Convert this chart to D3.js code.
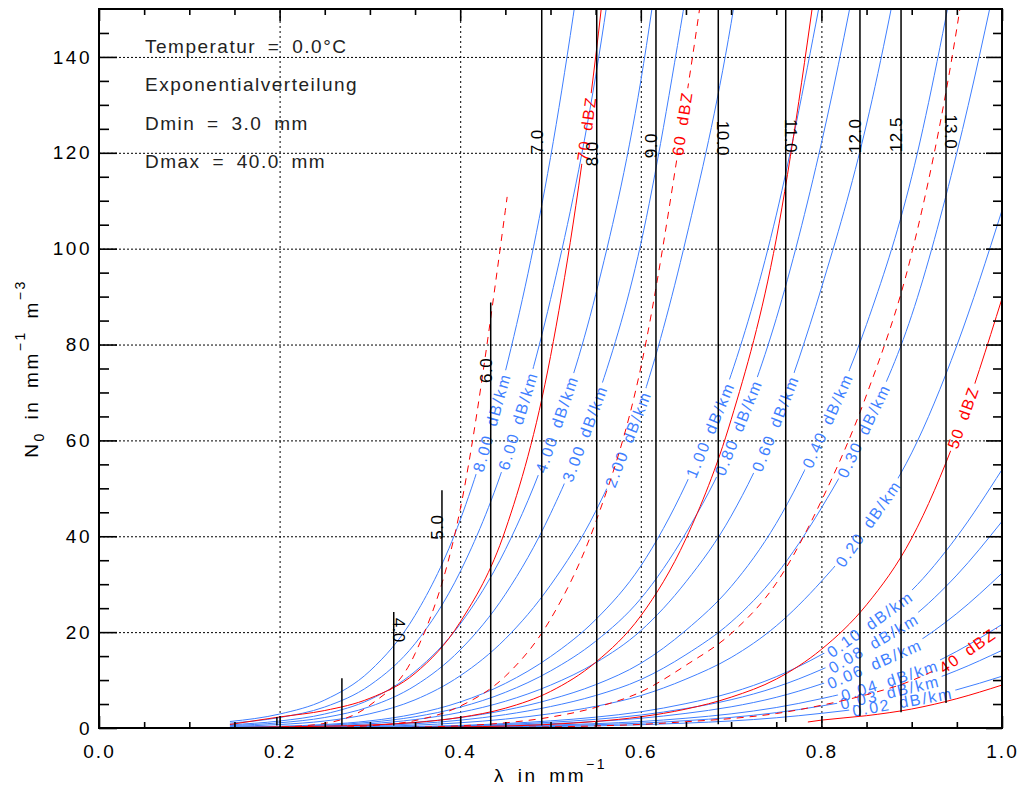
<!DOCTYPE html>
<html>
<head>
<meta charset="utf-8">
<script src="https://cdn.jsdelivr.net/npm/d3@7"></script>
<style>
  body { margin: 0; background: #fff; }
  svg text { font-family: "Liberation Sans", Arial, sans-serif; }
</style>
</head>
<body>
<div id="chart"></div>
<script>
// lambda grid (mm^-1) shared by the attenuation contours
const lamGrid = [0.145, 0.2, 0.25, 0.3, 0.35, 0.4, 0.45, 0.5, 0.55, 0.6, 0.65, 0.7, 0.75, 0.8, 0.85, 0.9, 0.95, 1.0];

// specific attenuation contours: label and N0 read at each lamGrid value
const attenLabels = ['8.00', '6.00', '4.00', '3.00', '2.00', '1.00', '0.80', '0.60', '0.40',
    '0.30', '0.20', '0.10', '0.08', '0.06', '0.04', '0.03', '0.02'];
const attenN0 = [
    [1.35, 2.91, 5.84, 11.9, 23.5, 43.4, 74.4, 119, 181],
    [1.01, 2.18, 4.38, 8.92, 17.6, 32.6, 55.8, 89.4, 136, 203],
    [0.68, 1.46, 2.92, 5.94, 11.8, 21.7, 37.2, 59.6, 90.4, 135, 204],
    [0.51, 1.09, 2.19, 4.46, 8.82, 16.3, 27.9, 44.7, 67.8, 101, 153],
    [0.34, 0.73, 1.46, 2.97, 5.88, 10.9, 18.6, 29.8, 45.2, 67.6, 102, 147, 213],
    [0.17, 0.36, 0.73, 1.49, 2.94, 5.43, 9.30, 14.9, 22.6, 33.8, 50.9, 73.7, 107, 153],
    [0.14, 0.29, 0.58, 1.19, 2.35, 4.34, 7.44, 11.9, 18.1, 27.0, 40.7, 59.0, 85.4, 122, 168],
    [0.10, 0.22, 0.44, 0.89, 1.76, 3.26, 5.58, 8.94, 13.6, 20.3, 30.5, 44.2, 64.0, 91.8, 126, 172],
    [0.07, 0.15, 0.29, 0.59, 1.18, 2.17, 3.72, 5.96, 9.04, 13.5, 20.4, 29.5, 42.7, 61.2, 84.2, 115, 160],
    [0.05, 0.11, 0.22, 0.45, 0.88, 1.63, 2.79, 4.47, 6.78, 10.1, 15.3, 22.1, 32.0, 45.9, 63.2, 86.1, 120, 162],
    [0.03, 0.07, 0.15, 0.30, 0.59, 1.09, 1.86, 2.98, 4.52, 6.76, 10.2, 14.7, 21.3, 30.6, 42.1, 57.4, 79.8, 108],
    [0.02, 0.04, 0.07, 0.15, 0.29, 0.54, 0.93, 1.49, 2.26, 3.38, 5.09, 7.37, 10.7, 15.3, 21.1, 28.7, 39.9, 53.9],
    [0.01, 0.03, 0.06, 0.12, 0.24, 0.43, 0.74, 1.19, 1.81, 2.70, 4.07, 5.90, 8.54, 12.2, 16.8, 23.0, 31.9, 43.1],
    [0.01, 0.02, 0.04, 0.09, 0.18, 0.33, 0.56, 0.89, 1.36, 2.03, 3.05, 4.42, 6.40, 9.18, 12.6, 17.2, 23.9, 32.3],
    [0.01, 0.01, 0.03, 0.06, 0.12, 0.22, 0.37, 0.60, 0.90, 1.35, 2.04, 2.95, 4.27, 6.12, 8.42, 11.5, 16.0, 21.6],
    [0.01, 0.01, 0.02, 0.04, 0.09, 0.16, 0.28, 0.45, 0.68, 1.01, 1.53, 2.21, 3.20, 4.59, 6.32, 8.61, 12.0, 16.2],
    [0.00, 0.01, 0.01, 0.03, 0.06, 0.11, 0.19, 0.30, 0.45, 0.68, 1.02, 1.47, 2.13, 3.06, 4.21, 5.74, 7.98, 10.8]
];
// where along each attenuation contour the label sits (lambda)
const attenLabelLam = [0.435, 0.464, 0.507, 0.538, 0.586, 0.677, 0.708, 0.749, 0.807,
    0.847, 0.852, 0.854, 0.858, 0.859, 0.876, 0.876, 0.89];

// reflectivity contours, solid family
const zSolidLabels = ['70 dBZ', '', '50 dBZ', ''];
const zSolidLam = [
    [0.145, 0.2, 0.25, 0.3, 0.35, 0.4, 0.45, 0.5, 0.55, 0.6],
    [0.145, 0.2, 0.25, 0.3, 0.35, 0.4, 0.45, 0.5, 0.55, 0.6, 0.65, 0.7, 0.75, 0.8],
    lamGrid,
    [0.785, 0.8, 0.85, 0.9, 0.95, 1.0]
];
const zSolidN0 = [
    [0.74, 2.3, 3.65, 6.2, 11.4, 22.1, 41.3, 77.5, 140, 234],
    [0.07, 0.23, 0.37, 0.62, 1.14, 2.21, 4.13, 7.63, 13.7, 23.4, 39.5, 64.3, 102, 164],
    [0.01, 0.02, 0.04, 0.06, 0.11, 0.22, 0.41, 0.76, 1.37, 2.34, 3.95, 6.43, 10.2, 16.4, 25.7, 39.6, 61.2, 89.6],
    [1.25, 1.64, 2.57, 3.96, 6.12, 8.96]
];
const zSolidLabelLam = [0.54, null, 0.957, null];

// reflectivity contours, dashed family
const zDashLabels = ['', '60 dBZ', '', '40 dBZ'];
const zDashLam = [
    [0.145, 0.2, 0.25, 0.3, 0.35, 0.4, 0.45, 0.452],
    [0.145, 0.2, 0.25, 0.3, 0.35, 0.4, 0.45, 0.5, 0.55, 0.6, 0.65, 0.7],
    lamGrid,
    lamGrid
];
const zDashN0 = [
    [0.03, 0.20, 0.97, 4.76, 15.5, 45.6, 108, 110.8],
    [0.00, 0.02, 0.10, 0.48, 1.55, 4.56, 10.8, 22.7, 42.9, 75.2, 131, 197],
    [0.00, 0.00, 0.01, 0.05, 0.16, 0.46, 1.08, 2.27, 4.29, 7.52, 13.1, 19.7, 30.2, 47.4, 69.5, 99.0, 146, 216],
    [0.00, 0.00, 0.00, 0.00, 0.02, 0.05, 0.11, 0.23, 0.43, 0.75, 1.31, 1.97, 3.02, 4.74, 6.95, 9.90, 14.6, 21.6]
];
const zDashLabelLam = [null, 0.646, null, 0.962];

// vertical marker lines: lambda, N0 bottom, N0 top, label
const vLam    = [0.197, 0.269, 0.3264, 0.3798, 0.4338, 0.4903, 0.5512, 0.6168, 0.6858, 0.7605, 0.8427, 0.8882, 0.938];
const vBottom = [0.5, 0.5, 0.5, 0.5, 0.5, 0.5, 0.5, 0.5, 0.8, 1.25, 2.5, 3.3, 5.2];
const vTop    = [2.3, 10.4, 24.2, 49.6, 88.75, 150, 150, 150, 150, 150, 150, 150, 150];
const vLabels = ['', '', '4.0', '5.0', '6.0', '7.0', '8.0', '9.0', '10.0', '11.0', '12.0', '12.5', '13.0'];
// label placement (N0) and reading direction of each marker label
const vLabelN0  = [0, 0, 20.4, 41.9, 74.6, 122.3, 119.8, 121.5, 123, 123.5, 123.5, 123.8, 124.4];
const vLabelRot = [0, 0, 90, -90, -90, -90, -90, -90, 90, 90, -90, -90, 90];

const notes = ['Temperatur = 0.0°C', 'Exponentialverteilung', 'Dmin = 3.0 mm', 'Dmax = 40.0 mm'];

const xTicks = [0, 0.2, 0.4, 0.6, 0.8, 1.0];
const yTicks = [0, 20, 40, 60, 80, 100, 120, 140];

const blue = '#3f7fff', red = '#ff0000';

const margin = { top: 9, left: 99 },
    width = 1002 - margin.left,
    height = 728 - margin.top;

const svg = d3.select('#chart')
    .append('svg')
        .attr('width', 1022)
        .attr('height', 789);

const defs = svg.append('defs');
defs.append('clipPath')
    .attr('id', 'plot-clip')
    .append('rect')
        .attr('width', width)
        .attr('height', height);

const g = svg.append('g')
    .attr('transform', `translate(${margin.left}, ${margin.top})`);

const x = d3.scaleLinear().domain([0, 1]).range([0, width]);
const y = d3.scaleLinear().domain([0, 150]).range([height, 0]);

// grid (dotted)
g.append('g')
    .attr('transform', `translate(0, ${height})`)
    .call(d3.axisBottom(x).tickValues(xTicks.slice(1, -1)).tickSize(-height).tickFormat(''))
    .call(a => a.select('.domain').remove())
    .selectAll('line')
        .attr('stroke', '#000')
        .attr('stroke-dasharray', '2,3');

g.append('g')
    .call(d3.axisLeft(y).tickValues(yTicks.slice(1)).tickSize(-width).tickFormat(''))
    .call(a => a.select('.domain').remove())
    .selectAll('line')
        .attr('stroke', '#000')
        .attr('stroke-dasharray', '2,2');

// curves
const curves = g.append('g').attr('clip-path', 'url(#plot-clip)');
const line = d3.line()
    .defined(d => d[1] != null)
    .x(d => x(d[0]))
    .y(d => y(d[1]))
    .curve(d3.curveMonotoneX);

function placeLabel(path, lam, text, color, id) {
    const node = path.node(),
        total = node.getTotalLength(),
        target = x(lam);
    let lo = 0, hi = total;
    for (let i = 0; i < 40; i++) {
        const mid = (lo + hi) / 2;
        if (node.getPointAtLength(mid).x < target) lo = mid; else hi = mid;
    }
    const p = node.getPointAtLength(lo),
        p0 = node.getPointAtLength(Math.max(0, lo - 4)),
        p1 = node.getPointAtLength(Math.min(total, lo + 4)),
        angle = Math.atan2(p1.y - p0.y, p1.x - p0.x) * 180 / Math.PI;

    const label = curves.append('text')
        .text(text)
        .attr('transform', `translate(${p.x}, ${p.y}) rotate(${angle})`)
        .attr('text-anchor', 'middle')
        .attr('dy', '0.35em')
        .attr('font-size', 16)
        .attr('letter-spacing', 1.8)
        .attr('word-spacing', 3)
        .attr('fill', color);
    const len = label.node().getComputedTextLength();

    // break the contour line under its label
    const mask = defs.append('mask')
        .attr('id', id)
        .attr('maskUnits', 'userSpaceOnUse')
        .attr('x', -20).attr('y', -20)
        .attr('width', width + 40).attr('height', height + 40);
    mask.append('rect')
        .attr('x', -20).attr('y', -20)
        .attr('width', width + 40).attr('height', height + 40)
        .attr('fill', '#fff');
    mask.append('rect')
        .attr('x', -len / 2 - 3).attr('y', -8)
        .attr('width', len + 6).attr('height', 16)
        .attr('transform', `translate(${p.x}, ${p.y}) rotate(${angle})`)
        .attr('fill', '#000');
    path.attr('mask', `url(#${id})`);
}

attenN0.forEach(function(vals, i) {
    const pts = vals.map((v, j) => [lamGrid[j], v]);
    const path = curves.append('path')
        .datum(pts)
        .attr('fill', 'none')
        .attr('stroke', blue)
        .attr('stroke-width', 1)
        .attr('d', line);
    placeLabel(path, attenLabelLam[i], attenLabels[i] + ' dB/km', blue, 'gap-a' + i);
});

zSolidN0.forEach(function(vals, i) {
    const pts = vals.map((v, j) => [zSolidLam[i][j], v]);
    const path = curves.append('path')
        .datum(pts)
        .attr('fill', 'none')
        .attr('stroke', red)
        .attr('stroke-width', 1)
        .attr('d', line);
    if (zSolidLabelLam[i] != null) placeLabel(path, zSolidLabelLam[i], zSolidLabels[i], red, 'gap-s' + i);
});

zDashN0.forEach(function(vals, i) {
    const pts = vals.map((v, j) => [zDashLam[i][j], v]);
    const path = curves.append('path')
        .datum(pts)
        .attr('fill', 'none')
        .attr('stroke', red)
        .attr('stroke-width', 1)
        .attr('stroke-dasharray', '7,6')
        .attr('d', line);
    if (zDashLabelLam[i] != null) placeLabel(path, zDashLabelLam[i], zDashLabels[i], red, 'gap-d' + i);
});

// vertical marker lines
vLam.forEach(function(lam, i) {
    curves.append('line')
        .attr('x1', x(lam)).attr('x2', x(lam))
        .attr('y1', y(vBottom[i])).attr('y2', y(vTop[i]))
        .attr('stroke', '#000')
        .attr('stroke-width', 1.5);
    if (vLabels[i]) {
        g.append('text')
            .text(vLabels[i])
            .attr('transform', `translate(${x(lam) + (vLabelRot[i] > 0 ? -1 : 1)}, ${y(vLabelN0[i])}) rotate(${vLabelRot[i]})`)
            .attr('text-anchor', 'middle')
            .attr('font-size', 17)
            .attr('letter-spacing', 0.5)
            .attr('fill', '#000');
    }
});

// notes
notes.forEach(function(t, i) {
    g.append('text')
        .text(t)
        .attr('x', 46)
        .attr('y', 44 + i * 38.4)
        .attr('font-size', 19)
        .attr('letter-spacing', 1.5)
        .attr('word-spacing', 5)
        .attr('fill', '#222');
});

// axes: major and minor ticks on all four sides
const xMinor = d3.range(0.05, 1, 0.05).filter(v => Math.abs(v * 5 - Math.round(v * 5)) > 1e-6);
const yMinor = d3.range(5, 150, 5).filter(v => v % 20 !== 0);

function tickStyle(sel) {
    sel.select('.domain').remove();
    sel.selectAll('line').attr('stroke', '#000').attr('stroke-width', 1.6);
}

g.append('g')
    .attr('transform', `translate(0, ${height})`)
    .call(d3.axisBottom(x).tickValues(xTicks).tickSize(-12).tickPadding(17).tickFormat(d3.format('.1f')))
    .call(tickStyle)
    .selectAll('text')
        .attr('font-size', 19)
        .attr('letter-spacing', 2)
        .attr('font-family', '"Liberation Sans", Arial, sans-serif')
        .attr('fill', '#000');
g.append('g')
    .attr('transform', `translate(0, ${height})`)
    .call(d3.axisBottom(x).tickValues(xMinor).tickSize(-6).tickFormat(''))
    .call(tickStyle);
g.append('g')
    .call(d3.axisTop(x).tickValues(xTicks).tickSize(-12).tickFormat(''))
    .call(tickStyle);
g.append('g')
    .call(d3.axisTop(x).tickValues(xMinor).tickSize(-6).tickFormat(''))
    .call(tickStyle);

g.append('g')
    .call(d3.axisLeft(y).tickValues(yTicks).tickSize(-18).tickPadding(7).tickFormat(d3.format('d')))
    .call(tickStyle)
    .selectAll('text')
        .attr('font-size', 19)
        .attr('letter-spacing', 2.5)
        .attr('font-family', '"Liberation Sans", Arial, sans-serif')
        .attr('fill', '#000');
g.append('g')
    .call(d3.axisLeft(y).tickValues(yMinor).tickSize(-10).tickFormat(''))
    .call(tickStyle);
g.append('g')
    .attr('transform', `translate(${width}, 0)`)
    .call(d3.axisRight(y).tickValues(yTicks).tickSize(-16).tickFormat(''))
    .call(tickStyle);
g.append('g')
    .attr('transform', `translate(${width}, 0)`)
    .call(d3.axisRight(y).tickValues(yMinor).tickSize(-9).tickFormat(''))
    .call(tickStyle);

// frame
g.append('rect')
    .attr('width', width)
    .attr('height', height)
    .attr('fill', 'none')
    .attr('stroke', '#000')
    .attr('stroke-width', 2);

// axis titles
const xTitle = svg.append('text')
    .attr('x', margin.left + width / 2)
    .attr('y', 782)
    .attr('text-anchor', 'middle')
    .attr('font-size', 19)
    .attr('letter-spacing', 2.5)
    .attr('word-spacing', 4)
    .attr('fill', '#000');
xTitle.append('tspan').text('λ in mm');
xTitle.append('tspan').attr('dy', -13).attr('font-size', 14).text('−1');

const yTitle = svg.append('text')
    .attr('transform', `translate(38, ${margin.top + height / 2}) rotate(-90)`)
    .attr('text-anchor', 'middle')
    .attr('font-size', 19)
    .attr('letter-spacing', 2.5)
    .attr('word-spacing', 4)
    .attr('fill', '#000');
yTitle.append('tspan').text('N');
yTitle.append('tspan').attr('dy', 6).attr('font-size', 14).text('0');
yTitle.append('tspan').attr('dy', -6).text(' in mm');
yTitle.append('tspan').attr('dy', -13).attr('font-size', 14).text('−1');
yTitle.append('tspan').attr('dy', 13).text(' m');
yTitle.append('tspan').attr('dy', -13).attr('font-size', 14).text('−3');
</script>
</body>
</html>
